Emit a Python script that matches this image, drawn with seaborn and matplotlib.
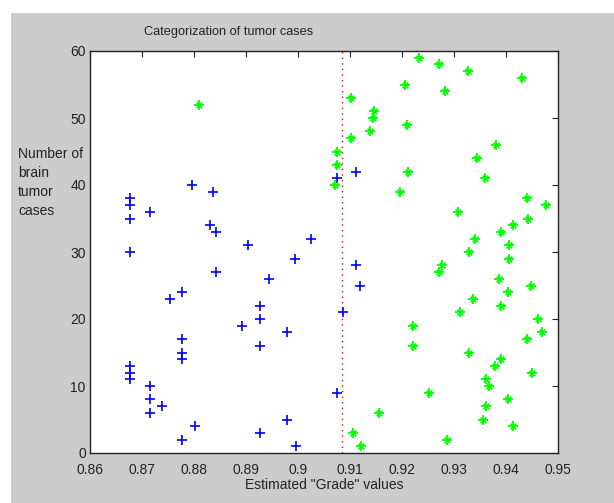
import matplotlib
matplotlib.use("Agg")
import matplotlib.pyplot as plt
import matplotlib.patches as mpatches
import seaborn as sns

# blue '+' : cases graded below the threshold
blue_grade = [0.8677, 0.8677, 0.8677, 0.8677, 0.8677, 0.8677, 0.8677,
              0.8716, 0.8716, 0.8716, 0.8716, 0.8738,
              0.8753, 0.8776, 0.8776, 0.8776, 0.8777, 0.8776,
              0.8796, 0.8801,
              0.8830, 0.8837, 0.8843, 0.8843,
              0.8903, 0.8893, 0.8926, 0.8926, 0.8926, 0.8926,
              0.8945, 0.8979, 0.8979, 0.8994, 0.8996, 0.9025,
              0.9075, 0.9075, 0.9087, 0.9111, 0.9111, 0.9119]
blue_cases = [38, 37, 35, 30, 13, 12, 11,
              36, 10, 8, 6, 7,
              23, 24, 17, 15, 14, 2,
              40, 4,
              34, 39, 33, 27,
              31, 19, 22, 20, 16, 3,
              26, 18, 5, 29, 1, 32,
              41, 9, 21, 42, 28, 25]

# green '*' : cases graded above the threshold
green_grade = [0.9121, 0.9287, 0.9105, 0.9414, 0.9355, 0.9156, 0.9361, 0.9404,
               0.9251, 0.9367, 0.9361, 0.9450, 0.9378, 0.9390, 0.9329, 0.9222,
               0.9440, 0.9470, 0.9222, 0.9462, 0.9312, 0.9390, 0.9336, 0.9404,
               0.9449, 0.9386, 0.9272, 0.9276, 0.9406, 0.9329, 0.9406, 0.9340,
               0.9390, 0.9414, 0.9442, 0.9307, 0.9477, 0.9440, 0.9197, 0.9071,
               0.9359, 0.9212, 0.9075, 0.9345, 0.9075, 0.9380, 0.9102, 0.9139,
               0.9210, 0.9144, 0.9147, 0.8810, 0.9102, 0.9282, 0.9206, 0.9431,
               0.9326, 0.9272, 0.9233]
green_cases = [1, 2, 3, 4, 5, 6, 7, 8, 9, 10, 11, 12, 13, 14, 15, 16, 17, 18,
               19, 20, 21, 22, 23, 24, 25, 26, 27, 28, 29, 30, 31, 32, 33, 34,
               35, 36, 37, 38, 39, 40, 41, 42, 43, 44, 45, 46, 47, 48, 49, 50,
               51, 52, 53, 54, 55, 56, 57, 58, 59]

threshold = 0.9085
x_ticks = [0.86, 0.87, 0.88, 0.89, 0.90, 0.91, 0.92, 0.93, 0.94, 0.95]
y_ticks = [0, 10, 20, 30, 40, 50, 60]
ylabel_lines = ['Number of', 'brain', 'tumor', 'cases']

sns.set_style("white")
plt.rcParams['font.family'] = ['Liberation Sans', 'DejaVu Sans']

fig = plt.figure(figsize=(6.14, 5.03), dpi=100, facecolor='white')
# grey matlab-style window background
fig.patches.append(mpatches.Rectangle((11 / 614, 0), 1, 1 - 13 / 503,
                                      transform=fig.transFigure,
                                      facecolor='#cccccc', edgecolor='none',
                                      zorder=-10))
ax = fig.add_axes([90 / 614, 1 - 453 / 503, 468 / 614, 402 / 503])
ax.set_facecolor('white')

ax.axvline(threshold, color='red', linestyle=(0, (1, 3)), linewidth=1)

sns.scatterplot(x=blue_grade, y=blue_cases, marker='+', color='blue',
                s=55, linewidth=1.2, ax=ax, zorder=3)
sns.scatterplot(x=green_grade, y=green_cases, marker='+', color='#00ff00',
                s=55, linewidth=1.3, ax=ax, zorder=3)
sns.scatterplot(x=green_grade, y=green_cases, marker='x', color='#00ff00',
                s=16, linewidth=1.3, ax=ax, zorder=3)

ax.set_xlim(0.86, 0.95)
ax.set_ylim(0, 60)
ax.set_xticks(x_ticks)
ax.set_xticklabels(['%g' % v for v in x_ticks])
ax.set_yticks(y_ticks)
ax.tick_params(direction='in', length=4, width=0.8, colors='#222222',
               labelsize=10, top=True, right=True, pad=3,
               labelcolor='#222222')
ax.tick_params(axis='x', pad=7)
for sp in ax.spines.values():
    sp.set_visible(True)
    sp.set_color('#222222')
    sp.set_linewidth(1.0)

ax.set_xlabel('Estimated "Grade" values', fontsize=10, color='#222222', labelpad=1)
fig.text(229 / 614, 1 - 32 / 503, 'Categorization of tumor cases',
         ha='center', va='center', fontsize=9.2, color='#222222')
for i, line in enumerate(ylabel_lines):
    fig.text(18 / 614, 1 - (154 + 19 * i) / 503, line,
             ha='left', va='center', fontsize=10, color='#222222')

plt.savefig('out.png', dpi=100, facecolor=fig.get_facecolor())
